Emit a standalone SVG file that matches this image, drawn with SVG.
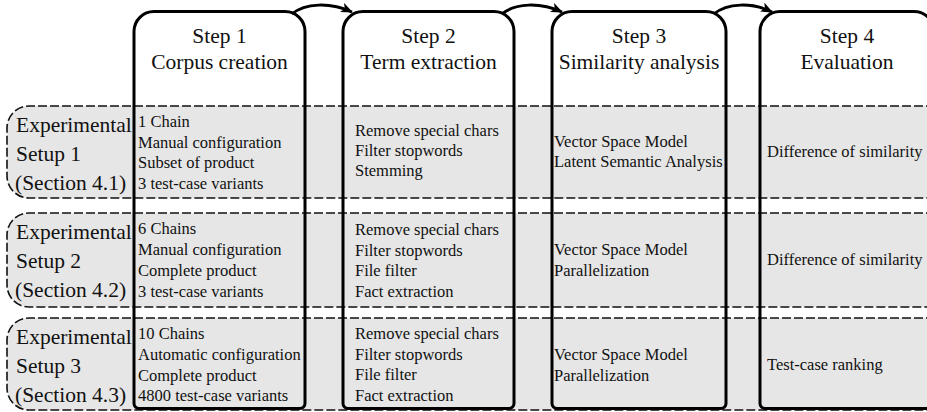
<svg xmlns="http://www.w3.org/2000/svg" width="927" height="412" viewBox="0 0 927 412">
<style>
.row{fill:#e6e6e6;stroke:#111;stroke-width:1.6;stroke-dasharray:9 3}
.box{fill:none;stroke:#000;stroke-width:3}
.hd{font-family:"Liberation Serif","Times New Roman",serif;font-size:21.5px;fill:#111;text-anchor:middle}
.lb{font-family:"Liberation Serif","Times New Roman",serif;font-size:21.5px;fill:#111}
.tx{font-family:"Liberation Serif","Times New Roman",serif;font-size:16.5px;fill:#111}
.con{fill:none;stroke:#000;stroke-width:3}
</style>
<defs>
<marker id="ah" viewBox="0 0 12 10" refX="11" refY="5" markerWidth="12" markerHeight="10" markerUnits="userSpaceOnUse" orient="auto">
<path d="M0,0 L12,5 L0,10 L3,5 z" fill="#000"/>
</marker>
</defs>
<rect width="927" height="412" fill="#fff"/>
<g id="setup1">
<path class="row" d="M935 106 H29 A22 22 0 0 0 7 128 V176 A22 22 0 0 0 29 198 H935"/>
<text class="lb" x="16" y="132">Experimental</text>
<text class="lb" x="16" y="161">Setup 1</text>
<text class="lb" x="15" y="190">(Section 4.1)</text>
</g>
<g id="setup2">
<path class="row" d="M935 213 H29 A22 22 0 0 0 7 235 V285 A22 22 0 0 0 29 307 H935"/>
<text class="lb" x="16" y="239">Experimental</text>
<text class="lb" x="16" y="268">Setup 2</text>
<text class="lb" x="15" y="297">(Section 4.2)</text>
</g>
<g id="setup3">
<path class="row" d="M935 318 H29 A22 22 0 0 0 7 340 V388 A22 22 0 0 0 29 410 H935"/>
<text class="lb" x="16" y="344">Experimental</text>
<text class="lb" x="16" y="373">Setup 3</text>
<text class="lb" x="15" y="402">(Section 4.3)</text>
</g>
<g id="step1">
<path class="box" d="M139 408.5 H300 A5 5 0 0 0 305 403.5 V31.5 A20 20 0 0 0 285 11.5 H154 A20 20 0 0 0 134 31.5 V403.5 A5 5 0 0 0 139 408.5 Z"/>
<text class="hd" x="219.5" y="42.5">Step 1</text>
<text class="hd" x="219.5" y="68.5">Corpus creation</text>
<text class="tx" x="138" y="127">1 Chain</text>
<text class="tx" x="138" y="147.5">Manual configuration</text>
<text class="tx" x="138" y="168">Subset of product</text>
<text class="tx" x="138" y="189">3 test-case variants</text>
<text class="tx" x="138" y="234">6 Chains</text>
<text class="tx" x="138" y="255">Manual configuration</text>
<text class="tx" x="138" y="276">Complete product</text>
<text class="tx" x="138" y="297">3 test-case variants</text>
<text class="tx" x="138" y="339">10 Chains</text>
<text class="tx" x="138" y="360">Automatic configuration</text>
<text class="tx" x="138" y="380.5">Complete product</text>
<text class="tx" x="138" y="401">4800 test-case variants</text>
</g>
<g id="step2">
<path class="box" d="M348 408.5 H509 A5 5 0 0 0 514 403.5 V31.5 A20 20 0 0 0 494 11.5 H363 A20 20 0 0 0 343 31.5 V403.5 A5 5 0 0 0 348 408.5 Z"/>
<text class="hd" x="428.5" y="42.5">Step 2</text>
<text class="hd" x="428.5" y="68.5">Term extraction</text>
<text class="tx" x="355" y="136">Remove special chars</text>
<text class="tx" x="355" y="156">Filter stopwords</text>
<text class="tx" x="355" y="175.5">Stemming</text>
<text class="tx" x="355" y="235">Remove special chars</text>
<text class="tx" x="355" y="255.5">Filter stopwords</text>
<text class="tx" x="355" y="276">File filter</text>
<text class="tx" x="355" y="296.5">Fact extraction</text>
<text class="tx" x="355" y="339">Remove special chars</text>
<text class="tx" x="355" y="359.5">Filter stopwords</text>
<text class="tx" x="355" y="380">File filter</text>
<text class="tx" x="355" y="400.5">Fact extraction</text>
</g>
<g id="step3">
<path class="box" d="M557 408.5 H721 A5 5 0 0 0 726 403.5 V31.5 A20 20 0 0 0 706 11.5 H572 A20 20 0 0 0 552 31.5 V403.5 A5 5 0 0 0 557 408.5 Z"/>
<text class="hd" x="639" y="42.5">Step 3</text>
<text class="hd" x="639" y="68.5">Similarity analysis</text>
<text class="tx" x="554" y="147">Vector Space Model</text>
<text class="tx" x="554" y="166.5">Latent Semantic Analysis</text>
<text class="tx" x="554" y="255">Vector Space Model</text>
<text class="tx" x="554" y="276">Parallelization</text>
<text class="tx" x="554" y="360">Vector Space Model</text>
<text class="tx" x="554" y="381">Parallelization</text>
</g>
<g id="step4">
<path class="box" d="M765 408.5 H929 A5 5 0 0 0 934 403.5 V31.5 A20 20 0 0 0 914 11.5 H780 A20 20 0 0 0 760 31.5 V403.5 A5 5 0 0 0 765 408.5 Z"/>
<text class="hd" x="847" y="42.5">Step 4</text>
<text class="hd" x="847" y="68.5">Evaluation</text>
<text class="tx" x="767" y="157">Difference of similarity</text>
<text class="tx" x="767" y="265">Difference of similarity</text>
<text class="tx" x="767" y="370">Test-case ranking</text>
</g>
<g id="connectors">
<path class="con" marker-end="url(#ah)" d="M292 14 C305 3 330 2 352 12"/>
<path class="con" marker-end="url(#ah)" d="M502 14 C515 3 540 2 562 12"/>
<path class="con" marker-end="url(#ah)" d="M714 14 C727 3 752 2 772 12"/>
</g>
</svg>
